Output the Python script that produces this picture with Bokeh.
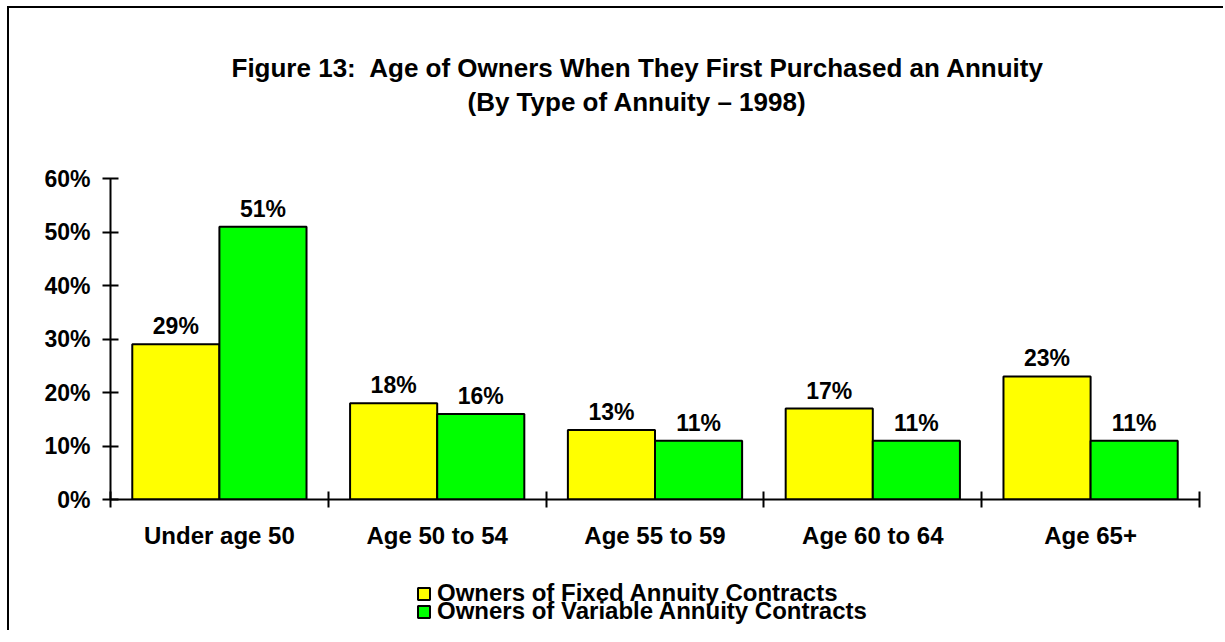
import numpy as np
from bokeh.plotting import figure
from bokeh.layouts import column
from bokeh.models import (ColumnDataSource, FixedTicker, NumeralTickFormatter, Legend,
                          LegendItem, Range1d, Title)
from bokeh.transform import dodge
from bokeh.core.properties import value
from bokeh.embed import file_html
from bokeh.resources import INLINE

categories = ["Under age 50", "Age 50 to 54", "Age 55 to 59", "Age 60 to 64", "Age 65+"]
fixed = [0.29, 0.18, 0.13, 0.17, 0.23]
variable = [0.51, 0.16, 0.11, 0.11, 0.11]
fixed_labels = ["29%", "18%", "13%", "17%", "23%"]
variable_labels = ["51%", "16%", "11%", "11%", "11%"]
y_ticks = [0.0, 0.1, 0.2, 0.3, 0.4, 0.5, 0.6]
series_names = ["Owners of Fixed Annuity Contracts", "Owners of Variable Annuity Contracts"]
series_colors = ["#FFFF00", "#00FF00"]
title_lines = ["Figure 13:\u00a0 Age of Owners When They First Purchased an Annuity",
               "(By Type of Annuity \u2013 1998)"]

FONT = "Liberation Sans"
n = len(categories)
centers = list(np.arange(n) + 0.5)
bounds = list(np.arange(n + 1).astype(float))

src = ColumnDataSource(dict(x=centers, fixed=fixed, variable=variable,
                            fl=fixed_labels, vl=variable_labels))

W = 1216
p = figure(width=W, height=552, output_backend="svg", toolbar_location=None,
           x_range=Range1d(0, n), y_range=Range1d(0, 0.6),
           min_border_left=101, min_border_right=26, min_border_top=170,
           min_border_bottom=61)
p.outline_line_color = None
p.xgrid.grid_line_color = None
p.ygrid.grid_line_color = None
p.background_fill_color = "white"
p.border_fill_color = "white"

xa = p.below[0]
ya = p.left[0]

# blank spacer between the plot area and the title lines
spacer = Title(text=" ", text_font_size="1px", standoff=58)
p.add_layout(spacer, "above")

# second title line
t2 = Title(text=title_lines[1], align="left", offset=357, text_font=FONT,
           text_font_style="bold", text_font_size="26px", text_color="black",
           standoff=2)
p.add_layout(t2, "above")
# first title line (outermost)
p.title.text = title_lines[0]
p.title.align = "left"
p.title.offset = 121
p.title.text_font = FONT
p.title.text_font_style = "bold"
p.title.text_font_size = "26px"
p.title.text_color = "black"
p.title.standoff = 2

r1 = p.vbar(x=dodge("x", -0.2), top="fixed", width=0.4, source=src,
            fill_color=series_colors[0], line_color="black", line_width=2)
r2 = p.vbar(x=dodge("x", 0.2), top="variable", width=0.4, source=src,
            fill_color=series_colors[1], line_color="black", line_width=2)

for xo, col, lab in [(-0.2, "fixed", "fl"), (0.2, "variable", "vl")]:
    p.text(x=dodge("x", xo), y=col, text=lab, source=src,
           text_align="center", text_baseline="alphabetic", y_offset=-18,
           text_font=value(FONT), text_font_style="bold", text_font_size="23px",
           text_color="black")

# y axis
ya.ticker = FixedTicker(ticks=y_ticks)
ya.formatter = NumeralTickFormatter(format="0%")
ya.axis_line_width = 2
ya.major_tick_line_width = 2
ya.major_tick_in = 8
ya.major_tick_out = 8
ya.minor_tick_line_color = None
ya.major_label_standoff = 12
ya.major_label_text_font = FONT
ya.major_label_text_font_style = "bold"
ya.major_label_text_font_size = "23px"
ya.major_label_text_color = "black"

# x axis: labels at category centres, tick marks between categories
xa.ticker = FixedTicker(ticks=centers, minor_ticks=bounds)
xa.major_label_overrides = {c: lab for c, lab in zip(centers, categories)}
xa.axis_line_width = 2
xa.major_tick_line_color = None
xa.major_tick_out = 8
xa.major_tick_in = 0
xa.minor_tick_line_width = 2
xa.minor_tick_line_color = "black"
xa.minor_tick_in = 8
xa.minor_tick_out = 8
xa.major_label_standoff = 14
xa.major_label_text_font = FONT
xa.major_label_text_font_style = "bold"
xa.major_label_text_font_size = "24px"
xa.major_label_text_color = "black"

# legend strip (legend-only swatch renderers, one undrawn NaN point each)
pl = figure(width=W, height=72, output_backend="svg", toolbar_location=None,
            x_axis_type=None, y_axis_type=None, min_border=0,
            x_range=Range1d(0, 1), y_range=Range1d(0, 1))
pl.outline_line_color = None
pl.background_fill_color = "white"
pl.border_fill_color = "white"
lr = [pl.vbar(x=[float("nan")], top=[float("nan")], width=0.1, fill_color=c,
              line_color="black", line_width=2) for c in series_colors]
for nm, r, loc in zip(series_names, lr, [(306, 25), (306, 7)]):
    lg = Legend(items=[LegendItem(label=nm, renderers=[r])], location=loc,
                orientation="vertical",
                label_text_font=FONT, label_text_font_style="bold",
                label_text_font_size="24px", label_text_color="black",
                glyph_width=15, glyph_height=15,
                spacing=0, padding=0, margin=0, border_line_color=None,
                background_fill_alpha=0, label_standoff=6)
    pl.add_layout(lg, "center")

lay = column(p, pl, spacing=0)
lay.styles = {"box-shadow": "-2px -2px 0 0 black", "margin": "8px 0 0 9px"}

open("out.html", "w").write(file_html(lay, INLINE))
